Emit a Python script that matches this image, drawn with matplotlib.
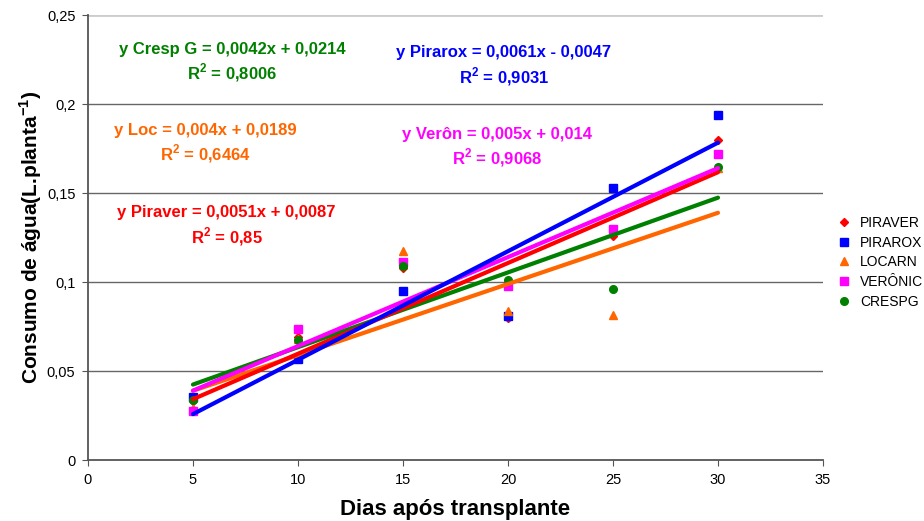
import matplotlib.pyplot as plt
import numpy as np

plt.rcParams['font.family'] = ['Liberation Sans', 'DejaVu Sans']
plt.rcParams['mathtext.fontset'] = 'custom'
plt.rcParams['mathtext.rm'] = 'Liberation Sans'
plt.rcParams['mathtext.bf'] = 'Liberation Sans:bold'

# dados
dias = [5, 10, 15, 20, 25, 30]
piraver = [0.033, 0.069, 0.108, 0.080, 0.126, 0.180]
pirarox = [0.0355, 0.0567, 0.095, 0.081, 0.153, 0.194]
locarn = [0.029, 0.068, 0.1174, 0.0837, 0.0815, 0.164]
veronica = [0.0275, 0.0736, 0.111, 0.098, 0.130, 0.172]
crespg = [0.034, 0.0674, 0.109, 0.101, 0.096, 0.1646]

nomes = ['PIRAVER', 'PIRAROX', 'LOCARN', 'VERÔNIC', 'CRESPG']
cores = ['#FF0000', '#0000FF', '#FF6600', '#FF00FF', '#008000']
marcadores = ['D', 's', '^', 's', 'o']
tam_marc = [4.5, 5.5, 6, 5.5, 5.5]

# equações de tendência (coeficientes do gráfico)
inclinacoes = [0.0051, 0.0061, 0.004, 0.005, 0.0042]
interceptos = [0.0087, -0.0047, 0.0189, 0.014, 0.0214]
equacoes = ['y Piraver = 0,0051x + 0,0087', 'y Pirarox = 0,0061x - 0,0047',
            'y Loc = 0,004x + 0,0189', 'y Verôn = 0,005x + 0,014',
            'y Cresp G = 0,0042x + 0,0214']
r2 = ['0,85', '0,9031', '0,6464', '0,9068', '0,8006']
pos_eq = [(6.6, 0.1388), (19.8, 0.2287), (5.57, 0.1854), (19.5, 0.1831), (6.86, 0.2309)]

fig = plt.figure(figsize=(9.24, 5.21), dpi=100)
ax = fig.add_axes([0.0952, 0.117, 0.7955, 0.8542])

series = [piraver, pirarox, locarn, veronica, crespg]
for i, s in enumerate(series):
    ax.plot(dias, s, linestyle='none', marker=marcadores[i], color=cores[i],
            markersize=tam_marc[i], label=nomes[i], zorder=3)

x_lin = np.array([dias[0], dias[-1]])
for i in [2, 4, 0, 3, 1]:
    ax.plot(x_lin, inclinacoes[i] * x_lin + interceptos[i], color=cores[i],
            lw=3, zorder=4, solid_capstyle='round')

for i in range(5):
    xt, yt = pos_eq[i]
    ax.text(xt, yt, equacoes[i], color=cores[i], fontsize=12, fontweight='bold',
            ha='center', va='center')
    ax.text(xt, yt - 0.0135, 'R$^{\\mathbf{2}}$ = ' + r2[i], color=cores[i], fontsize=12,
            fontweight='bold', ha='center', va='center')

ax.set_xlim(0, 35)
ax.set_ylim(0, 0.25)
ax.set_xticks(range(0, 36, 5))
ax.set_yticks([0, 0.05, 0.1, 0.15, 0.2, 0.25])
ax.set_yticklabels(['0', '0,05', '0,1', '0,15', '0,2', '0,25'])
ax.tick_params(labelsize=10.5, length=4, direction='out', color='#555555', pad=5)
for y in [0.05, 0.1, 0.15, 0.2]:
    ax.axhline(y, color='#666666', lw=1, zorder=1)
ax.axhline(0.25, color='#cccccc', lw=2, zorder=1)
ax.spines['top'].set_visible(False)
ax.spines['right'].set_visible(False)
ax.spines['left'].set_color('#555555')
ax.spines['bottom'].set_color('#555555')
ax.spines['left'].set_linewidth(1.3)
ax.spines['bottom'].set_linewidth(1.3)

ax.set_xlabel('Dias após transplante', fontsize=16, fontweight='bold', labelpad=9)
ax.set_ylabel('Consumo de água(L.planta$^{\\mathbf{-1}}$)', fontsize=15, fontweight='bold',
              labelpad=2)

fig.legend(loc='upper left', bbox_to_anchor=(0.8905, 0.61), frameon=False, fontsize=10,
           handletextpad=0.6, labelspacing=0.42, handlelength=1.2)

fig.savefig('out.png', dpi=100)
